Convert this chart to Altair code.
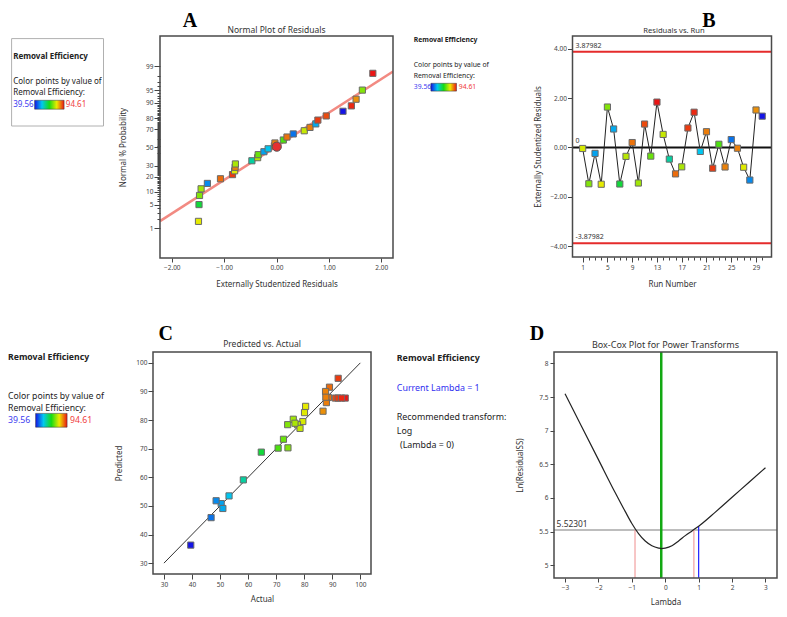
import altair as alt
import pandas as pd
from statistics import NormalDist

FONT = "Noto Sans"
SERIF = "Liberation Serif"

# ---------------- data ----------------
runs = list(range(1, 31))
actual = [79.5, 74.1, 50.4, 80.5, 74.2, 51.0, 64.7, 77.6, 88.6, 76.1,
          91.1, 72.6, 94.61, 78.5, 58.3, 89.0, 76.7, 92.1, 93.3, 53.2,
          87.9, 92.1, 70.7, 87.6, 46.8, 87.7, 80.1, 48.6, 86.7, 39.56]
predicted = [79.5, 78.4, 50.8, 84.8, 70.3, 49.1, 68.8, 78.4, 87.9, 80.3,
             87.7, 73.3, 87.7, 77.1, 59.1, 91.5, 78.9, 87.7, 87.7, 53.5,
             86.1, 94.6, 70.2, 90.0, 45.9, 88.0, 82.6, 51.8, 83.1, 36.3]
residual = [-0.04, -1.47, -0.24, -1.49, 1.64, 0.75, -1.48, -0.36, 0.20, -1.44,
            0.95, -0.35, 1.84, 0.53, -0.47, -1.07, -0.785, 0.79, 1.43, -0.16,
            0.64, -0.84, 0.13, -0.79, 0.32, -0.03, -0.80, -1.32, 1.52, 1.27]
normal_pct = [1.67, 5.0, 8.33, 11.67, 15.0, 18.33, 21.67, 25.0, 28.33, 31.67,
              35.0, 38.33, 41.67, 45.0, 48.33, 51.67, 55.0, 58.33, 61.67, 65.0,
              68.33, 71.67, 75.0, 78.33, 81.67, 85.0, 88.33, 91.67, 95.0, 98.33]
fit_res = [-2.225, 2.225]
fit_pct = [1.70, 98.54]
center_res = [0.005]
center_pct = [50.8]

limit_value = 3.87982
limit_labels = ["3.87982", "-3.87982"]

diag_vals = [30, 100]

bc_lambda = [-3.0, -2.5, -2.0, -1.5, -1.2, -1.0, -0.8, -0.6, -0.4, -0.2, -0.12,
             0.0, 0.2, 0.4, 0.6, 0.8, 1.0, 1.5, 2.0, 2.5, 3.0]
bc_ln = [7.55, 7.06, 6.57, 6.08, 5.80, 5.62, 5.47, 5.36, 5.29, 5.255, 5.248,
         5.255, 5.29, 5.36, 5.44, 5.51, 5.58, 5.79, 6.01, 6.23, 6.45]
lambda_best = -0.12
ci_lambda = [-0.905, 0.857]
ci_ss = 5.52301
current_lambda = [1.0]
current_ln = [5.58]

prob_ticks = list(range(1, 100))
prob_major = [1, 5, 10, 20, 30, 50, 70, 80, 90, 95, 99]
color_min, color_max = 39.56, 94.61

# ---------------- helpers ----------------
rainbow = ["#1414e6", "#00c8f0", "#14dc14", "#ebeb00", "#eb1414"]
stops = [color_min + (color_max - color_min) * i / 4 for i in range(5)]
cscale = alt.Scale(domain=stops, range=rainbow, interpolate="rgb")
FRAME = "#4a4a4a"


def txt(t, x, y, size=8, color="#222", weight="normal", align="left",
        baseline="middle", font=FONT):
    return alt.Chart(pd.DataFrame({"t": [t]})).mark_text(
        align=align, baseline=baseline, fontSize=size, font=font,
        fontWeight=weight, color=color).encode(
        text="t:N", x=alt.value(x), y=alt.value(y))


def box(x1, x2, y1, y2, stroke=FRAME, width=1.5, opacity=1):
    return alt.Chart(pd.DataFrame({"t": [0]})).mark_rect(
        fill="white", fillOpacity=0, stroke=stroke, strokeWidth=width, strokeOpacity=opacity).encode(
        x=alt.value(x1), x2=alt.value(x2), y=alt.value(y1), y2=alt.value(y2))


def gradbar(x1, x2, y1, y2):
    grad = alt.Gradient(gradient="linear",
                        stops=[alt.GradientStop(offset=i / 4, color=c) for i, c in enumerate(rainbow)],
                        x1=0, x2=1, y1=0, y2=0)
    return alt.Chart(pd.DataFrame({"t": [0]})).mark_rect(
        fill=grad, stroke="#333", strokeWidth=0.5).encode(
        x=alt.value(x1), x2=alt.value(x2), y=alt.value(y1), y2=alt.value(y2))


def legend_block(x, ys, size, bar, maxx):
    return [
        txt("Removal Efficiency", x, ys[0], size=size, weight="bold"),
        txt("Color points by value of", x, ys[1], size=size),
        txt("Removal Efficiency:", x, ys[2], size=size),
        txt(f"{color_min:.2f}", x, ys[3], size=size, color="#3c3cf0"),
        gradbar(*bar),
        txt(f"{color_max:.2f}", maxx, ys[3], size=size, color="#f03c3c"),
    ]


def letter(t, x, y):
    return txt(t, x, y, size=20, weight="bold", align="center", baseline="top", font=SERIF, color="#000")


def squares(df, x, y):
    return alt.Chart(df).mark_square(size=38, stroke="#6a6a6a", strokeWidth=1, opacity=1).encode(
        x=x, y=y, fill=alt.Fill("actual:Q", scale=cscale, legend=None))


# ---------------- Panel A ----------------
dA, WA, HA = 7, 233, 222
dfA = pd.DataFrame({"run": runs, "res": residual, "actual": actual}).sort_values("res").reset_index(drop=True)
dfA["pct"] = normal_pct
z_ticks = [NormalDist().inv_cdf(p / 100) for p in prob_ticks]
major_list = "[" + ",".join(str(p) for p in prob_major) + "]"
pexpr = "round(cumulativeNormal(datum.value) * 100)"
is_major = f"indexof({major_list}, {pexpr}) >= 0"

xA = alt.X("res:Q", scale=alt.Scale(domain=[-2.225, 2.225], range=[dA, dA + WA], nice=False, zero=False),
           axis=alt.Axis(values=[-2, -1, 0, 1, 2], format=".2f",
                         title="Externally Studentized Residuals", tickSize=4,
                         labelPadding=2, titlePadding=10))
yA = alt.Y("z:Q", scale=alt.Scale(domain=[-3.18, 3.2], nice=False, zero=False),
           axis=alt.Axis(values=z_ticks, labelExpr=f"{is_major} ? '' + {pexpr} : ''",
                         tickSize={"condition": {"test": is_major, "value": 6}, "value": 3},
                         labelOverlap=False, title="Normal % Probability", offset=-dA,
                         titlePadding=18, labelPadding=1))
zcalc = "quantileNormal(datum.pct / 100)"

fitA = alt.Chart(pd.DataFrame({"res": fit_res, "pct": fit_pct})).transform_calculate(
    z=zcalc).mark_line(color="#f28a82", strokeWidth=2.5, clip=True).encode(x=xA, y=yA)
ptsA = squares(dfA, xA, yA).transform_calculate(z=zcalc)
centerA = alt.Chart(pd.DataFrame({"res": center_res, "pct": center_pct})).transform_calculate(
    z=zcalc).mark_circle(size=85, color="#e53030", stroke="#555", strokeWidth=1, opacity=1).encode(x=xA, y=yA)

panelA = alt.layer(
    fitA, ptsA, centerA, box(dA, dA + WA, 0, HA),
    box(0, 1, -27.6, -26.6, opacity=0),
    txt("Normal Plot of Residuals", dA + WA / 2, -6.2, size=8.5, align="center", color="#333"),
    letter("A", 37, -25),
    box(-141.4, -49.5, 2.6, 90, stroke="#b0b0b0", width=1),
    *legend_block(-139.8, [20.7, 45.6, 57.1, 68.6], 8, (-118.4, -88.9, 64.3, 73.2), -87.2),
    *legend_block(260.8, [3.6, 28.8, 39.7, 51.2], 6.8, (277.9, 303.5, 47.3, 55.1), 305.8),
).properties(width=dA + WA, height=HA)

# ---------------- Panel B ----------------
dB, WB, HB = 18.5, 199, 221
dfB = pd.DataFrame({"run": runs, "res": residual, "actual": actual})
run_major = "(datum.value - 1) % 4 == 0"
xB = alt.X("run:Q", scale=alt.Scale(domain=[-0.64, 31.5], range=[dB, dB + WB], nice=False, zero=False),
           axis=alt.Axis(values=runs, labelExpr=f"{run_major} ? '' + datum.value : ''",
                         tickSize={"condition": {"test": run_major, "value": 5}, "value": 3},
                         labelOverlap=False, title="Run Number", titlePadding=10, labelPadding=2))
yB = alt.Y("res:Q", scale=alt.Scale(domain=[-4.44, 4.52], nice=False, zero=False),
           axis=alt.Axis(values=[-4, -2, 0, 2, 4], format=".2f", offset=-dB,
                         title="Externally Studentized Residuals", tickSize=5,
                         titlePadding=7, labelPadding=1))
limdf = pd.DataFrame({"res": [limit_value, -limit_value], "lab": limit_labels})
zerodf = pd.DataFrame({"res": [0.0], "lab": ["0"]})
limB = alt.Chart(limdf).mark_rule(color="#e52b2b", strokeWidth=2).encode(
    y=yB, x=alt.value(dB), x2=alt.value(dB + WB))
limTxt = alt.Chart(limdf).mark_text(align="left", baseline="middle", dy=-6, fontSize=7,
                                    font=FONT, color="#333").encode(x=alt.value(dB + 3), y=yB, text="lab:N")
zeroB = alt.Chart(zerodf).mark_rule(color="#111", strokeWidth=2).encode(
    y=yB, x=alt.value(dB), x2=alt.value(dB + WB))
zeroTxt = alt.Chart(zerodf).mark_text(align="left", baseline="middle", dy=-6, fontSize=7,
                                      font=FONT, color="#333").encode(x=alt.value(dB + 3), y=yB, text="lab:N")
lineB = alt.Chart(dfB).mark_line(color="#222", strokeWidth=1).encode(x=xB, y=yB)

panelB = alt.layer(
    limB, zeroB, lineB, squares(dfB, xB, yB), limTxt, zeroTxt, box(dB, dB + WB, 0, HB),
    txt("Residuals vs. Run", dB + WB / 2 + 2, -5.5, size=7.6, align="center", color="#333"),
    letter("B", 155, -25),
).properties(width=dB + WB, height=HB)

# ---------------- Panel C ----------------
WC, HC = 218, 222
dfC = pd.DataFrame({"actual": actual, "predicted": predicted})
xC = alt.X("actual:Q", scale=alt.Scale(domain=[26.1, 103.8], nice=False, zero=False),
           axis=alt.Axis(values=list(range(30, 101, 10)), format="d", title="Actual",
                         tickSize=5, titlePadding=8, labelPadding=2))
yC = alt.Y("predicted:Q", scale=alt.Scale(domain=[26.2, 103.8], nice=False, zero=False),
           axis=alt.Axis(values=list(range(30, 101, 10)), format="d", title="Predicted",
                         tickSize=5, titlePadding=12, labelPadding=1))
diagC = alt.Chart(pd.DataFrame({"actual": diag_vals, "predicted": diag_vals})).mark_line(
    color="#333", strokeWidth=1).encode(x=xC, y=yC)

panelC = alt.layer(
    diagC, squares(dfC, xC, yC), box(0, WC, 0, HC),
    txt("Predicted vs. Actual", WC / 2, -7.7, size=8.5, align="center", color="#333"),
    letter("C", 12.6, -28),
    *legend_block(-145, [5.4, 44.4, 56.3, 68.1], 8.7, (-117.4, -85.9, 61.4, 75.2), -83),
    txt("Removal Efficiency", 243.8, 6.1, size=8.9, weight="bold"),
    txt("Current Lambda = 1", 243.8, 35.6, size=8.9, color="#3030f0"),
    txt("Recommended transform:", 243.8, 65.2, size=8.9),
    txt("Log", 243.8, 79.3, size=8.9),
    txt("(Lambda = 0)", 247, 93.1, size=8.9),
).properties(width=WC, height=HC)

# ---------------- Panel D ----------------
WD, HD = 223, 226
dfD = pd.DataFrame({"lam": bc_lambda, "ln": bc_ln})
xD = alt.X("lam:Q", scale=alt.Scale(domain=[-3.33, 3.345], nice=False, zero=False),
           axis=alt.Axis(values=[-3, -2, -1, 0, 1, 2, 3], format="d", title="Lambda",
                         tickSize=4, titlePadding=8, labelPadding=2))
yD = alt.Y("ln:Q", scale=alt.Scale(domain=[4.81, 8.17], nice=False, zero=False),
           axis=alt.Axis(values=[5, 5.5, 6, 6.5, 7, 7.5, 8], format="~g", title="Ln(ResidualSS)",
                         tickSize=4, titlePadding=14, labelPadding=2))
ssdf = pd.DataFrame({"ln": [ci_ss], "lab": [f"{ci_ss:.5f}"]})
hD = alt.Chart(ssdf).mark_rule(color="#bdbdbd", strokeWidth=2).encode(y=yD)
hTxt = alt.Chart(ssdf).mark_text(align="left", baseline="middle", dy=-6.5, fontSize=8.4,
                                 font=FONT, color="#333").encode(x=alt.value(2.6), y=yD, text="lab:N")
greenD = alt.Chart(pd.DataFrame({"lam": [lambda_best]})).mark_rule(
    color="#12a812", strokeWidth=2.5).encode(x=xD)
pinkD = alt.Chart(pd.DataFrame({"lam": ci_lambda, "ln": [ci_ss] * len(ci_lambda)})).mark_rule(
    color="#f2a0a0", strokeWidth=1.2).encode(x=xD, y=yD, y2=alt.value(HD))
blueD = alt.Chart(pd.DataFrame({"lam": current_lambda, "ln": current_ln})).mark_rule(
    color="#2020ff", strokeWidth=1.2).encode(x=xD, y=yD, y2=alt.value(HD))
curveD = alt.Chart(dfD).mark_line(color="#222", strokeWidth=1.2, interpolate="monotone").encode(x=xD, y=yD)

panelD = alt.layer(
    hD, pinkD, blueD, greenD, curveD, hTxt, box(0, WD, 0, HD),
    txt("Box-Cox Plot for Power Transforms", WD / 2, -7.1, size=9, align="center", color="#333"),
    letter("D", -17, -28.5),
).properties(width=WD, height=HD)

# ---------------- compose ----------------
chart = alt.concat(
    panelA, panelB, panelC, panelD,
    columns=2, spacing={"row": 94, "column": 161}, align="none", bounds="flush",
).properties(padding=0).configure_view(
    strokeWidth=0
).configure_axis(
    labelFont=FONT, labelFontSize=6.5, labelColor="#444",
    titleFont=FONT, titleFontSize=8, titleFontWeight="normal", titleColor="#333",
    tickColor="#444", tickWidth=1, domain=False, grid=False,
)

chart.save("out.html", embed_options={"renderer": "svg", "actions": False})
